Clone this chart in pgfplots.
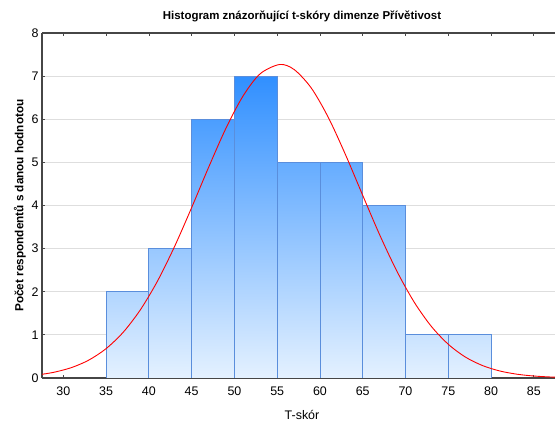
\documentclass[border=0pt]{standalone}
\usepackage{pgfplots}
\pgfplotsset{compat=1.18}
\usepackage{fontspec}
\setmainfont{Liberation Sans}
\definecolor{hb}{RGB}{24,130,255}
\definecolor{lb}{RGB}{228,241,255}
\definecolor{edge}{RGB}{90,142,220}
\definecolor{gridc}{RGB}{222,222,222}
\definecolor{axc}{RGB}{70,70,70}
\begin{document}
\begin{tikzpicture}
\begin{axis}[name=ax,
  scale only axis, width=520bp, height=345bp,
  xmin=27.5, xmax=88.3, ymin=0, ymax=8,
  axis x line*=box, axis y line*=left,
  axis line style={axc, line width=1.2pt},
  xtick={30,35,...,85}, ytick={0,...,8},
  tick align=inside, major tick length=3bp,
  tick style={axc, line width=0.8pt},
  ymajorgrids, grid style={gridc, line width=0.9pt},
  ticklabel style={font=\fontsize{12.5}{14}\selectfont},
  xticklabel style={yshift=-5bp},
  /pgf/number format/assume math mode=true,
  title={\bfseries Histogram znázorňující t-skóry dimenze Přívětivost},
  title style={font=\fontsize{11.5}{13}\selectfont, yshift=2bp},
  xlabel={T-skór}, ylabel={\bfseries Počet respondentů s danou hodnotou},
  xlabel style={font=\fontsize{12.5}{14}\selectfont, yshift=-8bp},
  ylabel style={font=\fontsize{11.8}{13}\selectfont, yshift=-1bp},
  clip=true]
% histogram bars (bin, count), shaded by height
\addplot[draw=edge, line width=0.9pt, top color=hb!25!lb, bottom color=lb] coordinates {(35,0)(35,2)(40,2)(40,0)} -- cycle;
\addplot[draw=edge, line width=0.9pt, top color=hb!37!lb, bottom color=lb] coordinates {(40,0)(40,3)(45,3)(45,0)} -- cycle;
\addplot[draw=edge, line width=0.9pt, top color=hb!75!lb, bottom color=lb] coordinates {(45,0)(45,6)(50,6)(50,0)} -- cycle;
\addplot[draw=edge, line width=0.9pt, top color=hb!88!lb, bottom color=lb] coordinates {(50,0)(50,7)(55,7)(55,0)} -- cycle;
\addplot[draw=edge, line width=0.9pt, top color=hb!62!lb, bottom color=lb] coordinates {(55,0)(55,5)(60,5)(60,0)} -- cycle;
\addplot[draw=edge, line width=0.9pt, top color=hb!62!lb, bottom color=lb] coordinates {(60,0)(60,5)(65,5)(65,0)} -- cycle;
\addplot[draw=edge, line width=0.9pt, top color=hb!50!lb, bottom color=lb] coordinates {(65,0)(65,4)(70,4)(70,0)} -- cycle;
\addplot[draw=edge, line width=0.9pt, top color=hb!13!lb, bottom color=lb] coordinates {(70,0)(70,1)(75,1)(75,0)} -- cycle;
\addplot[draw=edge, line width=0.9pt, top color=hb!13!lb, bottom color=lb] coordinates {(75,0)(75,1)(80,1)(80,0)} -- cycle;
% fitted normal curve
\addplot[red, line width=0.9pt, smooth] coordinates {
(27.5,0.086)(29,0.137)(31,0.245)(33,0.418)(35,0.682)(37,1.062)(39,1.581)
(41,2.246)(43,3.049)(45,3.953)(47,4.894)(49,5.788)(51,6.537)(53,7.053)
(55.3,7.27)(57,7.150)(59,6.720)(61,6.033)(63,5.172)(65,4.235)(67,3.312)
(69,2.474)(71,1.765)(73,1.202)(75,0.783)(77,0.486)(79,0.289)(81,0.164)
(83,0.089)(85,0.046)(87,0.023)(88.3,0.015)};
\end{axis}
\pgfresetboundingbox
\path[use as bounding box] ([xshift=-42bp,yshift=-45bp]ax.south west) rectangle ([xshift=-7bp,yshift=33bp]ax.north east);
\end{tikzpicture}
\end{document}
